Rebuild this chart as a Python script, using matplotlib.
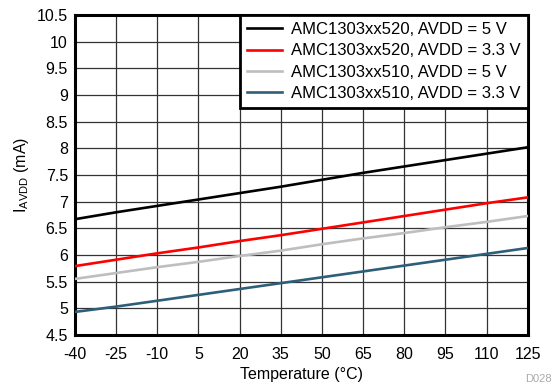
import matplotlib
matplotlib.use('Agg')
import matplotlib.pyplot as plt

plt.rcParams['font.family'] = ['Liberation Sans', 'DejaVu Sans']
plt.rcParams['axes.unicode_minus'] = False

temp = [-40, -25, -10, 5, 20, 35, 50, 65, 80, 95, 110, 125]
i_520_5v = [6.67, 6.80, 6.92, 7.04, 7.16, 7.28, 7.41, 7.54, 7.66, 7.78, 7.90, 8.02]
i_520_33v = [5.79, 5.91, 6.03, 6.14, 6.26, 6.37, 6.49, 6.61, 6.73, 6.85, 6.97, 7.08]
i_510_5v = [5.55, 5.66, 5.77, 5.87, 5.98, 6.08, 6.20, 6.31, 6.41, 6.52, 6.62, 6.73]
i_510_33v = [4.93, 5.03, 5.14, 5.25, 5.36, 5.47, 5.58, 5.69, 5.80, 5.91, 6.02, 6.13]

labels = ['AMC1303xx520, AVDD = 5 V', 'AMC1303xx520, AVDD = 3.3 V',
          'AMC1303xx510, AVDD = 5 V', 'AMC1303xx510, AVDD = 3.3 V']
colors = ['#000000', '#FF0000', '#BEBEBE', '#2E5E78']

fig = plt.figure(figsize=(5.55, 3.88), dpi=100)
ax = fig.add_axes([0.135, 0.137, 0.816, 0.824])

for y, lab, c in zip([i_520_5v, i_520_33v, i_510_5v, i_510_33v], labels, colors):
    ax.plot(temp, y, color=c, lw=1.9, label=lab, zorder=3)

ax.set_xlim(-40, 125)
ax.set_ylim(4.5, 10.5)
ax.set_xticks(temp)
ax.set_xticklabels([str(t) for t in temp])
ax.set_yticks([4.5 + 0.5 * k for k in range(13)])
ax.set_yticklabels(['4.5', '5', '5.5', '6', '6.5', '7', '7.5', '8', '8.5', '9', '9.5', '10', '10.5'])
ax.tick_params(axis='y', length=0, labelsize=11.5, pad=5)
ax.tick_params(axis='x', length=0, labelsize=11.5, pad=9)
ax.grid(True, color='#333333', lw=0.9)
for s in ax.spines.values():
    s.set_linewidth(2.2)

ax.set_xlabel('Temperature (°C)', fontsize=11.5, labelpad=3)
ax.set_ylabel(r'I$_{\mathregular{AVDD}}$ (mA)', fontsize=11.5, labelpad=4)

leg = ax.legend(loc='upper right', fontsize=12, frameon=True, fancybox=False,
                borderaxespad=0, handlelength=2.1, handletextpad=0.55,
                labelspacing=0.38, borderpad=0.42)
leg.get_frame().set_edgecolor('black')
leg.get_frame().set_linewidth(2.0)
leg.get_frame().set_alpha(1)

fig.text(0.995, 0.01, 'D028', color='#AAAAAA', fontsize=8, ha='right', va='bottom')

fig.savefig('out.png', dpi=100)
